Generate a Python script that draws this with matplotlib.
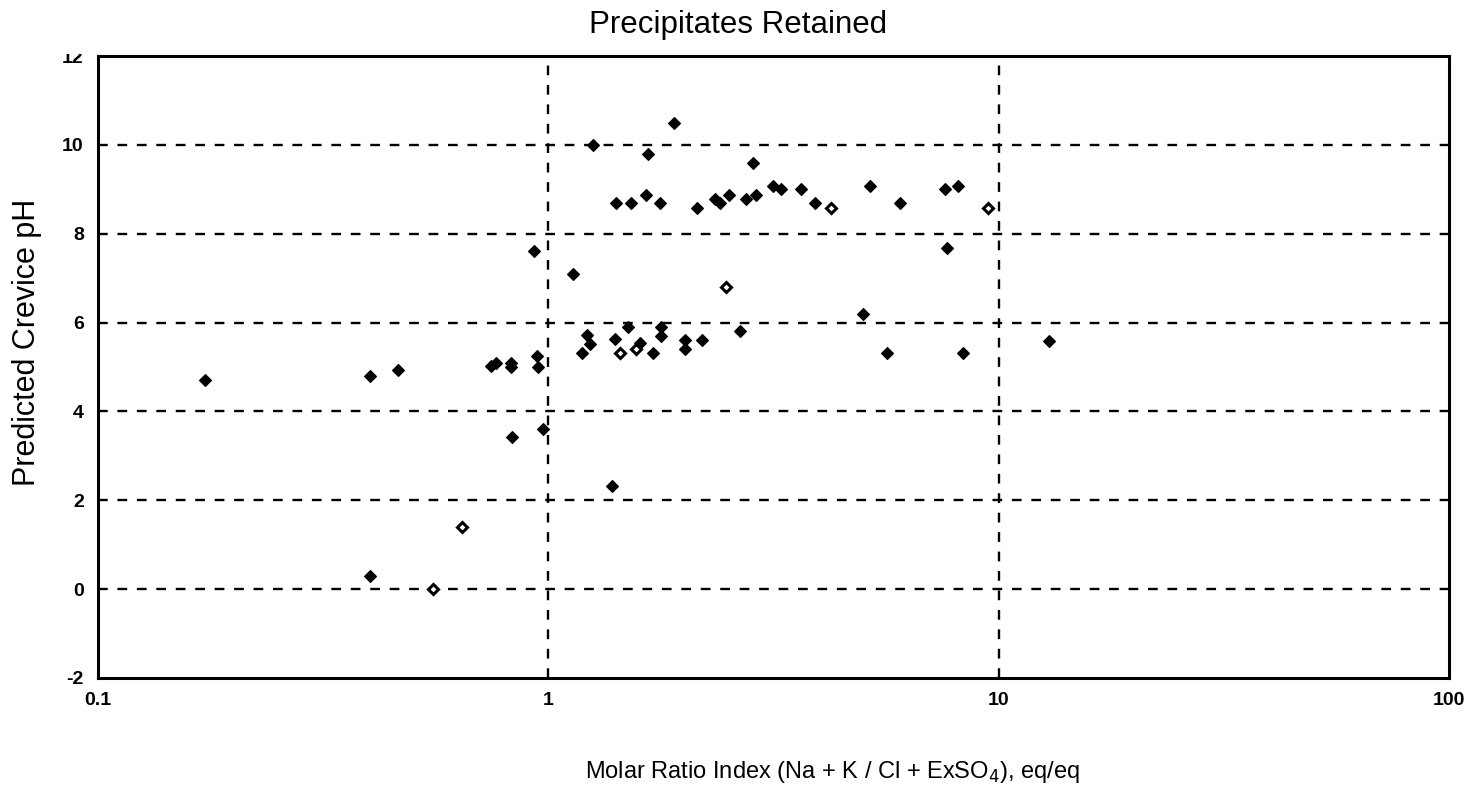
import matplotlib.pyplot as plt
from matplotlib.transforms import Bbox, TransformedBbox

# Data (molar ratio, predicted crevice pH)
filled_ratio = [0.173, 0.403, 0.465, 0.746, 0.765, 0.826, 0.826, 0.947, 0.951,
                0.833, 0.975, 0.403, 0.932, 1.90, 1.26, 1.67, 2.85, 1.418,
                1.525, 1.65, 1.773, 2.145, 2.35, 2.41, 2.52, 2.75, 2.89, 3.15,
                3.29, 3.65, 3.91, 5.18, 6.05, 7.59, 8.14, 7.70, 1.138, 5.01,
                1.192, 1.218, 1.237, 1.406, 1.505, 1.597, 1.71, 1.778, 1.778,
                2.014, 2.014, 2.20, 2.67, 5.64, 8.35, 12.95, 1.387]
filled_ph = [4.7, 4.8, 4.93, 5.03, 5.10, 5.08, 5.01, 5.25, 5.01,
             3.42, 3.6, 0.29, 7.6, 10.5, 10.0, 9.8, 9.6, 8.7,
             8.7, 8.87, 8.7, 8.57, 8.78, 8.7, 8.87, 8.78, 8.87, 9.08,
             9.0, 9.0, 8.7, 9.08, 8.7, 9.0, 9.07, 7.67, 7.09, 6.2,
             5.31, 5.71, 5.52, 5.62, 5.91, 5.53, 5.31, 5.89, 5.70,
             5.61, 5.40, 5.61, 5.82, 5.31, 5.31, 5.59, 2.32]

open_ratio = [0.645, 0.556, 2.48, 4.25, 9.48, 1.442, 1.565]
open_ph = [1.40, 0.0, 6.79, 8.57, 8.57, 5.31, 5.40]

y_ticks = [-2, 0, 2, 4, 6, 8, 10, 12]
x_ticks = [0.1, 1, 10, 100]
x_tick_labels = ["0.1", "1", "10", "100"]

plt.rcParams['font.family'] = ['Liberation Sans', 'DejaVu Sans']
plt.rcParams['lines.scale_dashes'] = False

fig = plt.figure(figsize=(14.73, 7.91), dpi=100)
ax = fig.add_axes([0.0663, 0.1429, 0.9174, 0.7863])

# Grid lines first so the markers sit on top
grid_style = dict(color='black', linewidth=1.7, linestyle=(0, (7, 7)), zorder=1)
for yv in [0, 2, 4, 6, 8, 10]:
    ax.axhline(yv, **grid_style)
for xv in [1, 10]:
    ax.axvline(xv, **grid_style)

ax.plot(filled_ratio, filled_ph, linestyle='none', marker='D', markersize=6.2,
        color='black', markeredgewidth=0.8, zorder=3)
ax.plot(open_ratio, open_ph, linestyle='none', marker='D', markersize=5.2,
        markerfacecolor='white', markeredgecolor='black', markeredgewidth=2.2,
        zorder=3)

ax.set_xscale('log')
ax.set_xlim(0.1, 100)
ax.set_ylim(-2, 12)
ax.set_xticks(x_ticks)
ax.set_xticklabels(x_tick_labels)
ax.set_xticks([], minor=True)
ax.set_yticks(y_ticks)
ax.set_yticklabels([str(v) for v in y_ticks])
ax.tick_params(length=0, labelsize=14, pad=10)
for lab in ax.get_xticklabels() + ax.get_yticklabels():
    lab.set_fontweight('bold')

for sp in ax.spines.values():
    sp.set_linewidth(2.2)

# The top label is cut off in the original scan
top_lab = ax.get_yticklabels()[-1]
top_lab.set_clip_on(True)
top_lab.set_clip_box(TransformedBbox(Bbox.from_extents(0, 0, 1, 1 - 54 / 791),
                                     fig.transFigure))

fig.text(0.501, 0.968, "Precipitates Retained", ha='center', va='center',
         fontsize=22.5)
fig.text(0.018, 0.567, "Predicted Crevice pH", ha='center', va='center',
         rotation=90, fontsize=22)
fig.text(0.565, 0.024, r"Molar Ratio Index (Na + K / Cl + ExSO$_4$), eq/eq",
         ha='center', va='center', fontsize=17)

plt.savefig("out.png", dpi=100)
